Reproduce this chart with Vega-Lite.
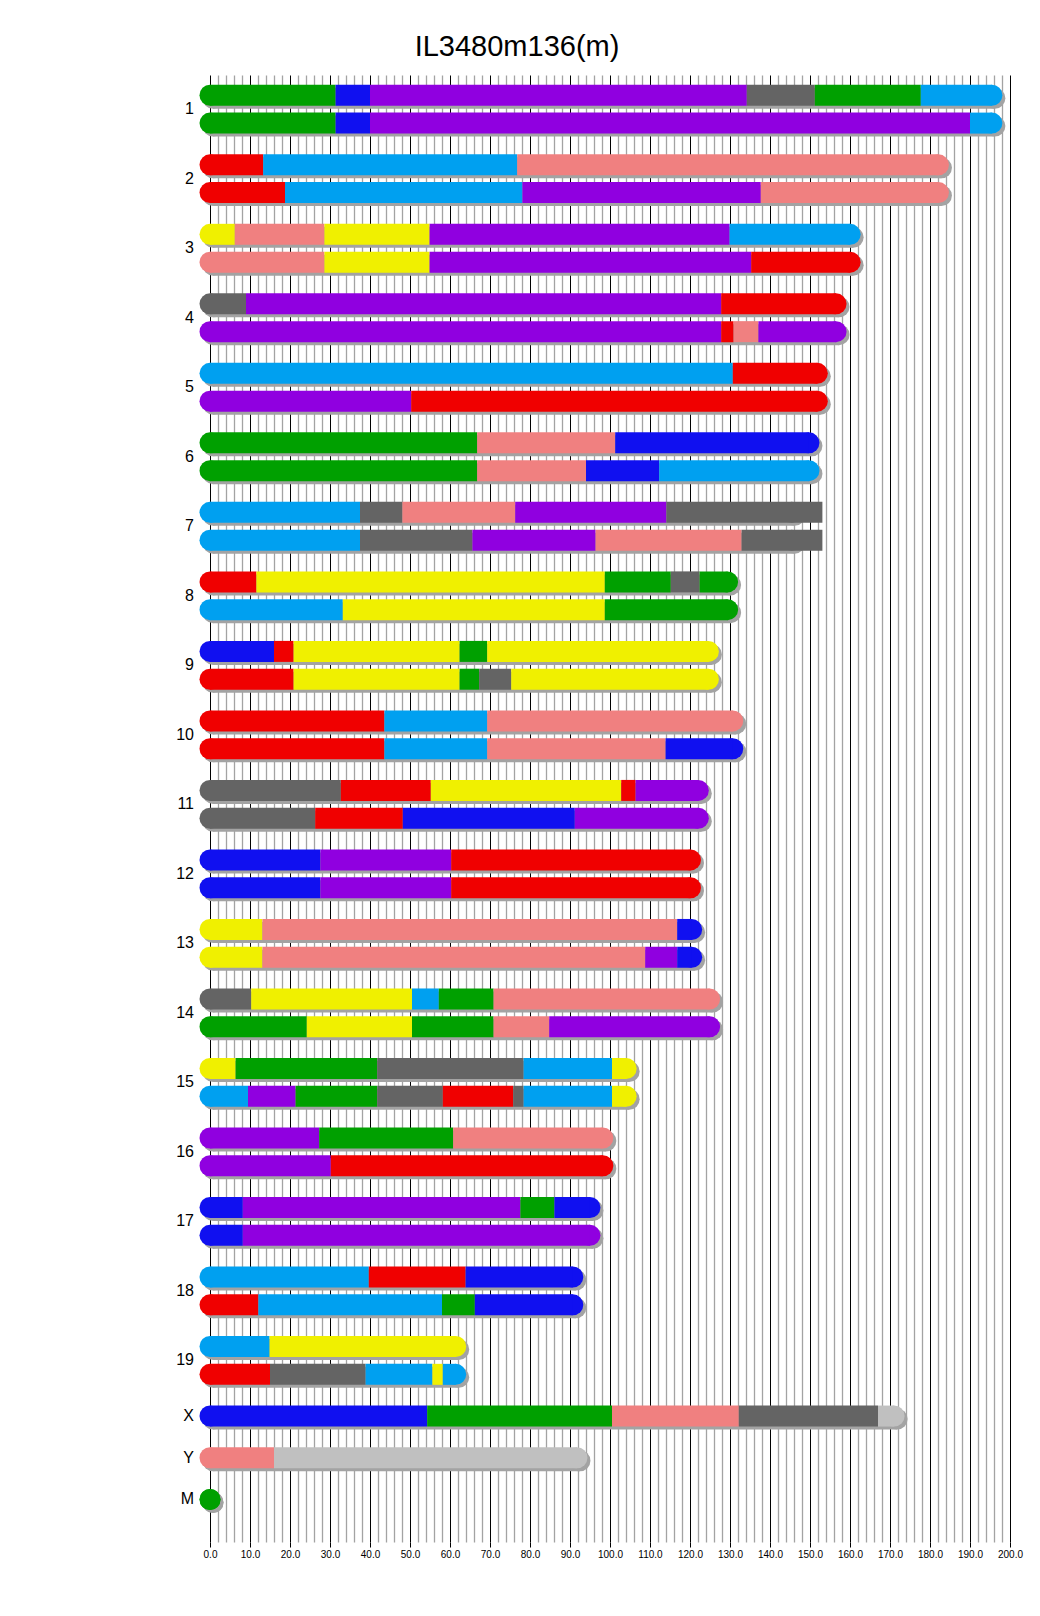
{
  "$schema": "https://vega.github.io/schema/vega-lite/v6.json",
  "autosize": {"type": "none"},
  "padding": {"left": 210, "top": 75, "right": 30, "bottom": 74},
  "width": 800,
  "height": 1467,
  "background": "white",
  "title": {"text": "IL3480m136(m)", "fontSize": 29, "font": "Liberation Sans", "fontWeight": "normal", "color": "#000000", "anchor": "middle", "frame": "group", "dx": -93, "offset": 13},
  "config": {"view": {"stroke": null}},
  "datasets": {
    "chroms": [
      {"chr": "1", "len": 195.47}, {"chr": "2", "len": 182.11}, {"chr": "3", "len": 160.04},
      {"chr": "4", "len": 156.51}, {"chr": "5", "len": 151.83}, {"chr": "6", "len": 149.74},
      {"chr": "7", "len": 145.44}, {"chr": "8", "len": 129.40}, {"chr": "9", "len": 124.60},
      {"chr": "10", "len": 130.69}, {"chr": "11", "len": 122.08}, {"chr": "12", "len": 120.13},
      {"chr": "13", "len": 120.42}, {"chr": "14", "len": 124.90}, {"chr": "15", "len": 104.04},
      {"chr": "16", "len": 98.21}, {"chr": "17", "len": 94.99}, {"chr": "18", "len": 90.70},
      {"chr": "19", "len": 61.43}, {"chr": "X", "len": 171.03}, {"chr": "Y", "len": 91.74},
      {"chr": "M", "len": 0.016}
    ],
    "segs": [
      {"chr": "1", "hap": 1, "start": 0, "end": 31.4, "founder": "CAST"},
      {"chr": "1", "hap": 1, "start": 31.4, "end": 40.0, "founder": "NOD"},
      {"chr": "1", "hap": 1, "start": 40.0, "end": 134.2, "founder": "WSB"},
      {"chr": "1", "hap": 1, "start": 134.2, "end": 151.2, "founder": "B6"},
      {"chr": "1", "hap": 1, "start": 151.2, "end": 177.7, "founder": "CAST"},
      {"chr": "1", "hap": 1, "start": 177.7, "end": 195.47, "founder": "NZO"},
      {"chr": "1", "hap": 2, "start": 0, "end": 31.4, "founder": "CAST"},
      {"chr": "1", "hap": 2, "start": 31.4, "end": 40.0, "founder": "NOD"},
      {"chr": "1", "hap": 2, "start": 40.0, "end": 190.0, "founder": "WSB"},
      {"chr": "1", "hap": 2, "start": 190.0, "end": 195.47, "founder": "NZO"},
      {"chr": "2", "hap": 1, "start": 0, "end": 13.3, "founder": "PWK"},
      {"chr": "2", "hap": 1, "start": 13.3, "end": 76.8, "founder": "NZO"},
      {"chr": "2", "hap": 1, "start": 76.8, "end": 182.11, "founder": "129"},
      {"chr": "2", "hap": 2, "start": 0, "end": 18.75, "founder": "PWK"},
      {"chr": "2", "hap": 2, "start": 18.75, "end": 78.1, "founder": "NZO"},
      {"chr": "2", "hap": 2, "start": 78.1, "end": 137.7, "founder": "WSB"},
      {"chr": "2", "hap": 2, "start": 137.7, "end": 182.11, "founder": "129"},
      {"chr": "3", "hap": 1, "start": 0, "end": 6.2, "founder": "AJ"},
      {"chr": "3", "hap": 1, "start": 6.2, "end": 28.6, "founder": "129"},
      {"chr": "3", "hap": 1, "start": 28.6, "end": 54.9, "founder": "AJ"},
      {"chr": "3", "hap": 1, "start": 54.9, "end": 129.9, "founder": "WSB"},
      {"chr": "3", "hap": 1, "start": 129.9, "end": 160.04, "founder": "NZO"},
      {"chr": "3", "hap": 2, "start": 0, "end": 28.6, "founder": "129"},
      {"chr": "3", "hap": 2, "start": 28.6, "end": 54.9, "founder": "AJ"},
      {"chr": "3", "hap": 2, "start": 54.9, "end": 135.3, "founder": "WSB"},
      {"chr": "3", "hap": 2, "start": 135.3, "end": 160.04, "founder": "PWK"},
      {"chr": "4", "hap": 1, "start": 0, "end": 9.0, "founder": "B6"},
      {"chr": "4", "hap": 1, "start": 9.0, "end": 127.8, "founder": "WSB"},
      {"chr": "4", "hap": 1, "start": 127.8, "end": 156.51, "founder": "PWK"},
      {"chr": "4", "hap": 2, "start": 0, "end": 127.8, "founder": "WSB"},
      {"chr": "4", "hap": 2, "start": 127.8, "end": 130.9, "founder": "PWK"},
      {"chr": "4", "hap": 2, "start": 130.9, "end": 137.1, "founder": "129"},
      {"chr": "4", "hap": 2, "start": 137.1, "end": 156.51, "founder": "WSB"},
      {"chr": "5", "hap": 1, "start": 0, "end": 130.7, "founder": "NZO"},
      {"chr": "5", "hap": 1, "start": 130.7, "end": 151.83, "founder": "PWK"},
      {"chr": "5", "hap": 2, "start": 0, "end": 50.3, "founder": "WSB"},
      {"chr": "5", "hap": 2, "start": 50.3, "end": 151.83, "founder": "PWK"},
      {"chr": "6", "hap": 1, "start": 0, "end": 66.8, "founder": "CAST"},
      {"chr": "6", "hap": 1, "start": 66.8, "end": 101.3, "founder": "129"},
      {"chr": "6", "hap": 1, "start": 101.3, "end": 149.74, "founder": "NOD"},
      {"chr": "6", "hap": 2, "start": 0, "end": 66.8, "founder": "CAST"},
      {"chr": "6", "hap": 2, "start": 66.8, "end": 94.0, "founder": "129"},
      {"chr": "6", "hap": 2, "start": 94.0, "end": 112.3, "founder": "NOD"},
      {"chr": "6", "hap": 2, "start": 112.3, "end": 149.74, "founder": "NZO"},
      {"chr": "7", "hap": 1, "start": 0, "end": 37.5, "founder": "NZO"},
      {"chr": "7", "hap": 1, "start": 37.5, "end": 48.1, "founder": "B6"},
      {"chr": "7", "hap": 1, "start": 48.1, "end": 76.3, "founder": "129"},
      {"chr": "7", "hap": 1, "start": 76.3, "end": 114.1, "founder": "WSB"},
      {"chr": "7", "hap": 1, "start": 114.1, "end": 153.1, "founder": "B6"},
      {"chr": "7", "hap": 2, "start": 0, "end": 37.5, "founder": "NZO"},
      {"chr": "7", "hap": 2, "start": 37.5, "end": 65.6, "founder": "B6"},
      {"chr": "7", "hap": 2, "start": 65.6, "end": 96.4, "founder": "WSB"},
      {"chr": "7", "hap": 2, "start": 96.4, "end": 132.9, "founder": "129"},
      {"chr": "7", "hap": 2, "start": 132.9, "end": 153.1, "founder": "B6"},
      {"chr": "8", "hap": 1, "start": 0, "end": 11.6, "founder": "PWK"},
      {"chr": "8", "hap": 1, "start": 11.6, "end": 98.7, "founder": "AJ"},
      {"chr": "8", "hap": 1, "start": 98.7, "end": 115.2, "founder": "CAST"},
      {"chr": "8", "hap": 1, "start": 115.2, "end": 122.4, "founder": "B6"},
      {"chr": "8", "hap": 1, "start": 122.4, "end": 129.40, "founder": "CAST"},
      {"chr": "8", "hap": 2, "start": 0, "end": 33.2, "founder": "NZO"},
      {"chr": "8", "hap": 2, "start": 33.2, "end": 98.7, "founder": "AJ"},
      {"chr": "8", "hap": 2, "start": 98.7, "end": 129.40, "founder": "CAST"},
      {"chr": "9", "hap": 1, "start": 0, "end": 16.0, "founder": "NOD"},
      {"chr": "9", "hap": 1, "start": 16.0, "end": 20.9, "founder": "PWK"},
      {"chr": "9", "hap": 1, "start": 20.9, "end": 62.4, "founder": "AJ"},
      {"chr": "9", "hap": 1, "start": 62.4, "end": 69.3, "founder": "CAST"},
      {"chr": "9", "hap": 1, "start": 69.3, "end": 124.60, "founder": "AJ"},
      {"chr": "9", "hap": 2, "start": 0, "end": 20.9, "founder": "PWK"},
      {"chr": "9", "hap": 2, "start": 20.9, "end": 62.4, "founder": "AJ"},
      {"chr": "9", "hap": 2, "start": 62.4, "end": 67.3, "founder": "CAST"},
      {"chr": "9", "hap": 2, "start": 67.3, "end": 75.3, "founder": "B6"},
      {"chr": "9", "hap": 2, "start": 75.3, "end": 124.60, "founder": "AJ"},
      {"chr": "10", "hap": 1, "start": 0, "end": 43.6, "founder": "PWK"},
      {"chr": "10", "hap": 1, "start": 43.6, "end": 69.3, "founder": "NZO"},
      {"chr": "10", "hap": 1, "start": 69.3, "end": 130.69, "founder": "129"},
      {"chr": "10", "hap": 2, "start": 0, "end": 43.6, "founder": "PWK"},
      {"chr": "10", "hap": 2, "start": 43.6, "end": 69.3, "founder": "NZO"},
      {"chr": "10", "hap": 2, "start": 69.3, "end": 113.9, "founder": "129"},
      {"chr": "10", "hap": 2, "start": 113.9, "end": 130.69, "founder": "NOD"},
      {"chr": "11", "hap": 1, "start": 0, "end": 32.7, "founder": "B6"},
      {"chr": "11", "hap": 1, "start": 32.7, "end": 55.2, "founder": "PWK"},
      {"chr": "11", "hap": 1, "start": 55.2, "end": 102.8, "founder": "AJ"},
      {"chr": "11", "hap": 1, "start": 102.8, "end": 106.4, "founder": "PWK"},
      {"chr": "11", "hap": 1, "start": 106.4, "end": 122.08, "founder": "WSB"},
      {"chr": "11", "hap": 2, "start": 0, "end": 26.3, "founder": "B6"},
      {"chr": "11", "hap": 2, "start": 26.3, "end": 48.2, "founder": "PWK"},
      {"chr": "11", "hap": 2, "start": 48.2, "end": 91.2, "founder": "NOD"},
      {"chr": "11", "hap": 2, "start": 91.2, "end": 122.08, "founder": "WSB"},
      {"chr": "12", "hap": 1, "start": 0, "end": 27.6, "founder": "NOD"},
      {"chr": "12", "hap": 1, "start": 27.6, "end": 60.3, "founder": "WSB"},
      {"chr": "12", "hap": 1, "start": 60.3, "end": 120.13, "founder": "PWK"},
      {"chr": "12", "hap": 2, "start": 0, "end": 27.6, "founder": "NOD"},
      {"chr": "12", "hap": 2, "start": 27.6, "end": 60.3, "founder": "WSB"},
      {"chr": "12", "hap": 2, "start": 60.3, "end": 120.13, "founder": "PWK"},
      {"chr": "13", "hap": 1, "start": 0, "end": 13.1, "founder": "AJ"},
      {"chr": "13", "hap": 1, "start": 13.1, "end": 116.8, "founder": "129"},
      {"chr": "13", "hap": 1, "start": 116.8, "end": 120.42, "founder": "NOD"},
      {"chr": "13", "hap": 2, "start": 0, "end": 13.1, "founder": "AJ"},
      {"chr": "13", "hap": 2, "start": 13.1, "end": 108.8, "founder": "129"},
      {"chr": "13", "hap": 2, "start": 108.8, "end": 116.8, "founder": "WSB"},
      {"chr": "13", "hap": 2, "start": 116.8, "end": 120.42, "founder": "NOD"},
      {"chr": "14", "hap": 1, "start": 0, "end": 10.3, "founder": "B6"},
      {"chr": "14", "hap": 1, "start": 10.3, "end": 50.5, "founder": "AJ"},
      {"chr": "14", "hap": 1, "start": 50.5, "end": 57.2, "founder": "NZO"},
      {"chr": "14", "hap": 1, "start": 57.2, "end": 70.9, "founder": "CAST"},
      {"chr": "14", "hap": 1, "start": 70.9, "end": 124.90, "founder": "129"},
      {"chr": "14", "hap": 2, "start": 0, "end": 24.2, "founder": "CAST"},
      {"chr": "14", "hap": 2, "start": 24.2, "end": 50.5, "founder": "AJ"},
      {"chr": "14", "hap": 2, "start": 50.5, "end": 70.9, "founder": "CAST"},
      {"chr": "14", "hap": 2, "start": 70.9, "end": 84.8, "founder": "129"},
      {"chr": "14", "hap": 2, "start": 84.8, "end": 124.90, "founder": "WSB"},
      {"chr": "15", "hap": 1, "start": 0, "end": 6.4, "founder": "AJ"},
      {"chr": "15", "hap": 1, "start": 6.4, "end": 41.8, "founder": "CAST"},
      {"chr": "15", "hap": 1, "start": 41.8, "end": 78.4, "founder": "B6"},
      {"chr": "15", "hap": 1, "start": 78.4, "end": 100.5, "founder": "NZO"},
      {"chr": "15", "hap": 1, "start": 100.5, "end": 104.04, "founder": "AJ"},
      {"chr": "15", "hap": 2, "start": 0, "end": 9.5, "founder": "NZO"},
      {"chr": "15", "hap": 2, "start": 9.5, "end": 21.4, "founder": "WSB"},
      {"chr": "15", "hap": 2, "start": 21.4, "end": 41.8, "founder": "CAST"},
      {"chr": "15", "hap": 2, "start": 41.8, "end": 58.2, "founder": "B6"},
      {"chr": "15", "hap": 2, "start": 58.2, "end": 75.8, "founder": "PWK"},
      {"chr": "15", "hap": 2, "start": 75.8, "end": 78.4, "founder": "B6"},
      {"chr": "15", "hap": 2, "start": 78.4, "end": 100.5, "founder": "NZO"},
      {"chr": "15", "hap": 2, "start": 100.5, "end": 104.04, "founder": "AJ"},
      {"chr": "16", "hap": 1, "start": 0, "end": 27.3, "founder": "WSB"},
      {"chr": "16", "hap": 1, "start": 27.3, "end": 60.8, "founder": "CAST"},
      {"chr": "16", "hap": 1, "start": 60.8, "end": 98.21, "founder": "129"},
      {"chr": "16", "hap": 2, "start": 0, "end": 30.2, "founder": "WSB"},
      {"chr": "16", "hap": 2, "start": 30.2, "end": 98.21, "founder": "PWK"},
      {"chr": "17", "hap": 1, "start": 0, "end": 8.2, "founder": "NOD"},
      {"chr": "17", "hap": 1, "start": 8.2, "end": 77.6, "founder": "WSB"},
      {"chr": "17", "hap": 1, "start": 77.6, "end": 86.1, "founder": "CAST"},
      {"chr": "17", "hap": 1, "start": 86.1, "end": 94.99, "founder": "NOD"},
      {"chr": "17", "hap": 2, "start": 0, "end": 8.2, "founder": "NOD"},
      {"chr": "17", "hap": 2, "start": 8.2, "end": 94.99, "founder": "WSB"},
      {"chr": "18", "hap": 1, "start": 0, "end": 39.7, "founder": "NZO"},
      {"chr": "18", "hap": 1, "start": 39.7, "end": 63.9, "founder": "PWK"},
      {"chr": "18", "hap": 1, "start": 63.9, "end": 90.70, "founder": "NOD"},
      {"chr": "18", "hap": 2, "start": 0, "end": 12.1, "founder": "PWK"},
      {"chr": "18", "hap": 2, "start": 12.1, "end": 58.0, "founder": "NZO"},
      {"chr": "18", "hap": 2, "start": 58.0, "end": 66.2, "founder": "CAST"},
      {"chr": "18", "hap": 2, "start": 66.2, "end": 90.70, "founder": "NOD"},
      {"chr": "19", "hap": 1, "start": 0, "end": 14.9, "founder": "NZO"},
      {"chr": "19", "hap": 1, "start": 14.9, "end": 61.43, "founder": "AJ"},
      {"chr": "19", "hap": 2, "start": 0, "end": 15.0, "founder": "PWK"},
      {"chr": "19", "hap": 2, "start": 15.0, "end": 38.9, "founder": "B6"},
      {"chr": "19", "hap": 2, "start": 38.9, "end": 55.6, "founder": "NZO"},
      {"chr": "19", "hap": 2, "start": 55.6, "end": 58.2, "founder": "AJ"},
      {"chr": "19", "hap": 2, "start": 58.2, "end": 61.43, "founder": "NZO"},
      {"chr": "X", "hap": 1, "start": 0, "end": 54.3, "founder": "NOD"},
      {"chr": "X", "hap": 1, "start": 54.3, "end": 100.5, "founder": "CAST"},
      {"chr": "X", "hap": 1, "start": 100.5, "end": 132.2, "founder": "129"},
      {"chr": "X", "hap": 1, "start": 132.2, "end": 167.0, "founder": "B6"},
      {"chr": "X", "hap": 1, "start": 167.0, "end": 171.03, "founder": "none"},
      {"chr": "Y", "hap": 1, "start": 0, "end": 16.0, "founder": "129"},
      {"chr": "Y", "hap": 1, "start": 16.0, "end": 91.74, "founder": "none"},
      {"chr": "M", "hap": 1, "start": 0, "end": 0.016, "founder": "CAST"}
    ]
  },
  "encoding": {
    "y": {"field": "pos", "type": "quantitative", "scale": {"domain": [-1.1, 103.7], "reverse": true, "nice": false, "zero": false}, "axis": null}
  },
  "layer": [
    {
      "data": {"name": "segs"},
      "transform": [
        {"filter": "datum.start === 0"},
        {"lookup": "chr", "from": {"data": {"name": "chroms"}, "key": "chr", "fields": ["len"]}},
        {"calculate": "indexof(['1','2','3','4','5','6','7','8','9','10','11','12','13','14','15','16','17','18','19','X','Y','M'], datum.chr)", "as": "ci"},
        {"calculate": "datum.ci < 19 ? datum.ci * 5 + (datum.hap - 1) * 2 : 95 + (datum.ci - 19) * 3", "as": "pos"}
      ],
      "mark": {"type": "bar", "size": 21, "color": "#a3a3a3", "xOffset": 3, "x2Offset": 3, "yOffset": 3, "strokeWidth": 0},
      "encoding": {
        "x": {"field": "start", "type": "quantitative",
          "scale": {"domain": [0, 200], "nice": false, "zero": true},
          "axis": {
            "orient": "bottom", "title": null, "domain": false,
            "values": [0,2,4,6,8,10,12,14,16,18,20,22,24,26,28,30,32,34,36,38,40,42,44,46,48,50,52,54,56,58,60,62,64,66,68,70,72,74,76,78,80,82,84,86,88,90,92,94,96,98,100,102,104,106,108,110,112,114,116,118,120,122,124,126,128,130,132,134,136,138,140,142,144,146,148,150,152,154,156,158,160,162,164,166,168,170,172,174,176,178,180,182,184,186,188,190,192,194,196,198,200],
            "tickCount": 1000,
            "grid": true,
            "gridColor": {"condition": {"test": "datum.value % 10 === 0", "value": "#000000"}, "value": "#a3a3a3"},
            "gridWidth": {"condition": {"test": "datum.value % 10 === 0", "value": 1}, "value": 1.3},
            "gridOpacity": 1,
            "ticks": true, "tickSize": 5, "tickWidth": 1, "tickColor": "#000000",
            "tickOpacity": {"condition": {"test": "datum.value % 10 === 0", "value": 1}, "value": 0},
            "labelExpr": "datum.value % 10 === 0 ? format(datum.value, '.1f') : ''",
            "labelFont": "Liberation Sans", "labelFontSize": 10, "labelColor": "#000000",
            "labelPadding": 2, "labelOverlap": false, "labelFlush": false, "labelBound": false
          }
        },
        "x2": {"field": "len"}
      }
    },
    {
      "data": {"name": "segs"},
      "transform": [
        {"filter": "datum.start === 0"},
        {"lookup": "chr", "from": {"data": {"name": "chroms"}, "key": "chr", "fields": ["len"]}},
        {"calculate": "indexof(['1','2','3','4','5','6','7','8','9','10','11','12','13','14','15','16','17','18','19','X','Y','M'], datum.chr)", "as": "ci"},
        {"calculate": "datum.ci < 19 ? datum.ci * 5 + (datum.hap - 1) * 2 : 95 + (datum.ci - 19) * 3", "as": "pos"}
      ],
      "mark": {"type": "point", "shape": "circle", "filled": true, "size": 441, "opacity": 1, "strokeWidth": 0, "color": "#a3a3a3", "xOffset": 3, "yOffset": 3},
      "encoding": {"x": {"field": "start", "type": "quantitative"}}
    },
    {
      "data": {"name": "segs"},
      "transform": [
        {"filter": "datum.start === 0"},
        {"lookup": "chr", "from": {"data": {"name": "chroms"}, "key": "chr", "fields": ["len"]}},
        {"calculate": "indexof(['1','2','3','4','5','6','7','8','9','10','11','12','13','14','15','16','17','18','19','X','Y','M'], datum.chr)", "as": "ci"},
        {"calculate": "datum.ci < 19 ? datum.ci * 5 + (datum.hap - 1) * 2 : 95 + (datum.ci - 19) * 3", "as": "pos"}
      ],
      "mark": {"type": "point", "shape": "circle", "filled": true, "size": 441, "opacity": 1, "strokeWidth": 0, "color": "#a3a3a3", "xOffset": 3, "yOffset": 3},
      "encoding": {"x": {"field": "len", "type": "quantitative"}}
    },
    {
      "data": {"name": "segs"},
      "transform": [
        {"filter": "datum.start === 0"},
        {"calculate": "indexof(['1','2','3','4','5','6','7','8','9','10','11','12','13','14','15','16','17','18','19','X','Y','M'], datum.chr)", "as": "ci"},
        {"calculate": "datum.ci < 19 ? datum.ci * 5 + (datum.hap - 1) * 2 : 95 + (datum.ci - 19) * 3", "as": "pos"}
      ],
      "mark": {"type": "point", "shape": "circle", "filled": true, "size": 441, "opacity": 1, "strokeWidth": 0},
      "encoding": {
        "x": {"field": "start", "type": "quantitative"},
        "color": {"field": "founder", "type": "nominal", "legend": null,
          "scale": {"domain": ["AJ", "B6", "129", "NOD", "NZO", "CAST", "PWK", "WSB", "none"],
                    "range": ["#f0f000", "#646464", "#f08080", "#1010f0", "#00a0f0", "#00a000", "#f00000", "#9000e0", "#c0c0c0"]}}
      }
    },
    {
      "data": {"name": "segs"},
      "transform": [
        {"lookup": "chr", "from": {"data": {"name": "chroms"}, "key": "chr", "fields": ["len"]}},
        {"filter": "datum.start < datum.len && datum.end >= datum.len - 0.001"},
        {"calculate": "indexof(['1','2','3','4','5','6','7','8','9','10','11','12','13','14','15','16','17','18','19','X','Y','M'], datum.chr)", "as": "ci"},
        {"calculate": "datum.ci < 19 ? datum.ci * 5 + (datum.hap - 1) * 2 : 95 + (datum.ci - 19) * 3", "as": "pos"}
      ],
      "mark": {"type": "point", "shape": "circle", "filled": true, "size": 441, "opacity": 1, "strokeWidth": 0},
      "encoding": {
        "x": {"field": "len", "type": "quantitative"},
        "color": {"field": "founder", "type": "nominal", "legend": null}
      }
    },
    {
      "data": {"name": "segs"},
      "transform": [
        {"calculate": "indexof(['1','2','3','4','5','6','7','8','9','10','11','12','13','14','15','16','17','18','19','X','Y','M'], datum.chr)", "as": "ci"},
        {"calculate": "datum.ci < 19 ? datum.ci * 5 + (datum.hap - 1) * 2 : 95 + (datum.ci - 19) * 3", "as": "pos"}
      ],
      "mark": {"type": "bar", "size": 21, "strokeWidth": 0, "cornerRadius": 0},
      "encoding": {
        "x": {"field": "start", "type": "quantitative"},
        "x2": {"field": "end"},
        "color": {"field": "founder", "type": "nominal", "legend": null}
      }
    },
    {
      "data": {"name": "chroms"},
      "transform": [
        {"calculate": "indexof(['1','2','3','4','5','6','7','8','9','10','11','12','13','14','15','16','17','18','19','X','Y','M'], datum.chr)", "as": "ci"},
        {"calculate": "datum.ci < 19 ? datum.ci * 5 + 1 : 95 + (datum.ci - 19) * 3", "as": "pos"}
      ],
      "mark": {"type": "text", "align": "right", "baseline": "middle", "font": "Liberation Sans", "fontSize": 16, "color": "#000000"},
      "encoding": {
        "x": {"datum": -4, "type": "quantitative"},
        "text": {"field": "chr"}
      }
    }
  ]
}
